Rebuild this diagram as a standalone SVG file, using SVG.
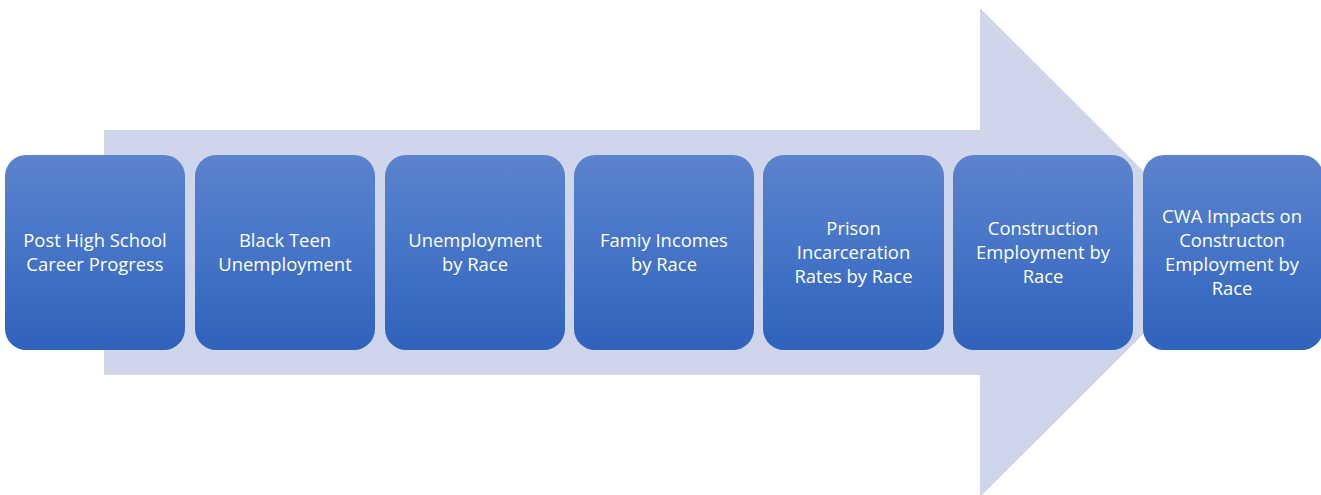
<svg xmlns="http://www.w3.org/2000/svg" width="1321" height="495" viewBox="0 0 1321 495">
  <defs>
    <linearGradient id="boxFill" x1="0" y1="0" x2="0" y2="1">
      <stop offset="0" stop-color="#5c83cd"/>
      <stop offset="0.5" stop-color="#4574c7"/>
      <stop offset="1" stop-color="#2f62bb"/>
    </linearGradient>
  </defs>
  <style>
    .box { fill: url(#boxFill); }
    .lbl { font-family: "Open Sans", "Liberation Sans", sans-serif; font-size: 18.4px; fill: #ffffff; text-anchor: middle; }
  </style>

  <!-- background process arrow -->
  <g id="connectors">
    <path d="M104 130 H980 V8 L1225 252.5 L980 497 V375 H104 Z" fill="#cfd5ea"/>
  </g>

  <g id="step1">
    <rect class="box" x="5" y="155" width="180" height="195" rx="21"/>
    <text class="lbl" x="95" y="247">Post High School</text>
    <text class="lbl" x="95" y="271">Career Progress</text>
  </g>
  <g id="step2">
    <rect class="box" x="195" y="155" width="180" height="195" rx="21"/>
    <text class="lbl" x="285" y="247">Black Teen</text>
    <text class="lbl" x="285" y="271">Unemployment</text>
  </g>
  <g id="step3">
    <rect class="box" x="385" y="155" width="180" height="195" rx="21"/>
    <text class="lbl" x="475" y="247">Unemployment</text>
    <text class="lbl" x="475" y="271">by Race</text>
  </g>
  <g id="step4">
    <rect class="box" x="574" y="155" width="180" height="195" rx="21"/>
    <text class="lbl" x="664" y="247">Famiy Incomes</text>
    <text class="lbl" x="664" y="271">by Race</text>
  </g>
  <g id="step5">
    <rect class="box" x="763" y="155" width="181" height="195" rx="21"/>
    <text class="lbl" x="853.5" y="235">Prison</text>
    <text class="lbl" x="853.5" y="259">Incarceration</text>
    <text class="lbl" x="853.5" y="283">Rates by Race</text>
  </g>
  <g id="step6">
    <rect class="box" x="953" y="155" width="180" height="195" rx="21"/>
    <text class="lbl" x="1043" y="235">Construction</text>
    <text class="lbl" x="1043" y="259">Employment by</text>
    <text class="lbl" x="1043" y="283">Race</text>
  </g>
  <g id="step7">
    <rect class="box" x="1143" y="155" width="180" height="195" rx="21"/>
    <text class="lbl" x="1232" y="223">CWA Impacts on</text>
    <text class="lbl" x="1232" y="247">Constructon</text>
    <text class="lbl" x="1232" y="271">Employment by</text>
    <text class="lbl" x="1232" y="295">Race</text>
  </g>
</svg>
